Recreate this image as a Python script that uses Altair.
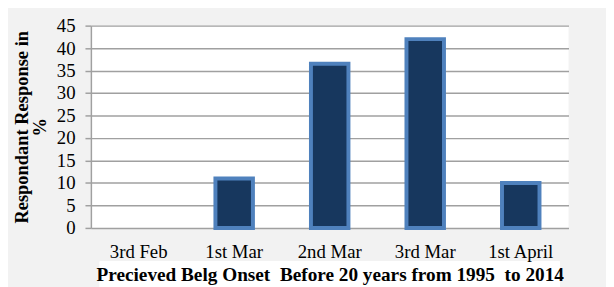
import altair as alt
import pandas as pd

categories = ["3rd Feb", "1st Mar", "2nd Mar", "3rd Mar", "1st April"]
values = [0, 11, 36.5, 42, 10]
y_ticks = [0, 5, 10, 15, 20, 25, 30, 35, 40, 45]

df = pd.DataFrame({"onset": categories, "pct": values})

FONT = "Liberation Serif"
W, H = 484, 205

x_enc = alt.X(
    "onset:N",
    sort=categories,
    scale=alt.Scale(domain=categories, paddingInner=0, paddingOuter=0),
    axis=alt.Axis(
        title="Precieved Belg Onset\u00a0 Before 20 years from 1995\u00a0 to 2014",
        labelAngle=0,
        labelFont=FONT,
        labelFontSize=19,
        labelColor="#000000",
        labelPadding=15,
        ticks=False,
        domain=False,
        titleFont=FONT,
        titleFontSize=19.5,
        titleFontWeight="bold",
        titleColor="#000000",
        titlePadding=4,
        zindex=1,
    ),
)

bars = (
    alt.Chart(df)
    .transform_filter("datum.pct > 0")
    .mark_bar(size=38, fill="#17375e", stroke="#4f81bd", strokeWidth=4)
    .encode(
        x=x_enc,
        y=alt.Y(
            "pct:Q",
            scale=alt.Scale(domain=[0, 45], nice=False),
            axis=alt.Axis(
                values=y_ticks,
                title=["Respondant Response in", "%"],
                titleFont=FONT,
                titleFontSize=18.7,
                titleFontWeight="bold",
                titleColor="#000000",
                titleAngle=-90,
                titleX=-70,
                titleY=H / 2,
                titleAlign="center",
                titleBaseline="middle",
                titleLineHeight=18,
                labelFont=FONT,
                labelFontSize=19,
                labelColor="#000000",
                labelPadding=10,
                tickSize=6,
                tickColor="#a0a0a0",
                tickWidth=1.5,
                domainColor="#a0a0a0",
                domainWidth=1.5,
                gridColor="#a0a0a0",
                gridWidth=1.5,
            ),
        ),
    )
)

title_bg = (
    alt.Chart(df)
    .mark_rect(fill="#ffffff")
    .encode(
        x=alt.value(9),
        x2=alt.value(475),
        y=alt.value(239),
        y2=alt.value(265),
    )
)

chart = (
    alt.layer(title_bg, bars)
    .properties(
        width=W,
        height=H,
        autosize=alt.AutoSizeParams(type="none"),
        padding={"left": 84, "top": 16, "right": 38, "bottom": 58},
        background="#f2f2f2",
    )
    .configure_view(fill="#ffffff", stroke=None)
)

chart.save("out.html", embed_options={"renderer": "svg", "actions": False})
